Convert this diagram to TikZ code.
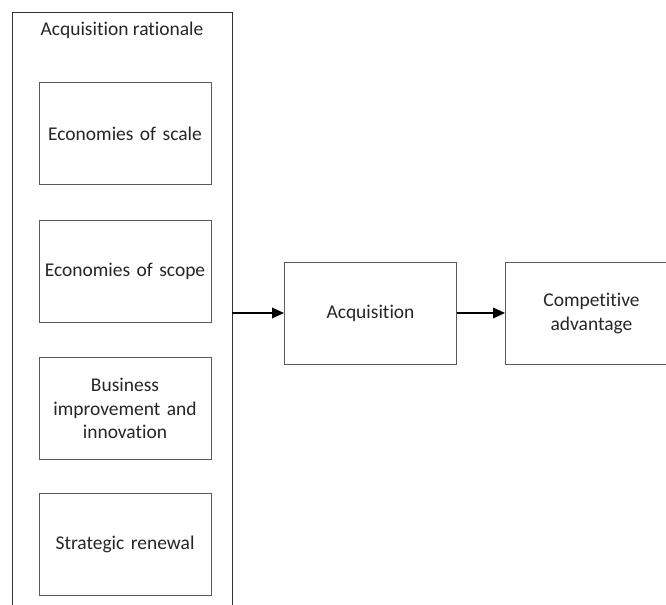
\documentclass[tikz,border=0pt]{standalone}
\usepackage{fontspec}
\setmainfont{Carlito}[Ligatures=NoCommon]
\usetikzlibrary{arrows.meta}

\begin{document}
\begin{tikzpicture}[x=0.75pt,y=-0.75pt,
	box/.style={draw=black!65, line width=0.75pt, minimum width=129pt, minimum height=76.5pt, inner sep=2pt, align=center, text width=122pt, font=\fontsize{14.6}{17.5}\selectfont, text=black!85},
	link/.style={draw=black, line width=1pt, -{Triangle[length=9pt,width=8pt]}}]
\useasboundingbox (0,0) rectangle (666,605);
\clip (0,0) rectangle (666,605);
\draw [black!80, line width=0.75pt] (12,13) rectangle (232,630);
\node [font=\fontsize{14.6}{17.5}\selectfont, text=black!85] (title) at (122,30) {Acquisition rationale};
\node [box] (scale) at (125,134) {Economies of scale};
\node [box] (scope) at (125,271.5) {Economies of scope};
\node [box] (improve) at (125,408.5) {Business\\improvement and\\innovation};
\node [box] (renewal) at (125,544.5) {Strategic renewal};
\coordinate (rationale) at (232,313);
\node [box] (acq) at (370.5,313.5) {Acquisition};
\node [box] (adv) at (591.5,313.5) {Competitive\\advantage};
\draw [link] (rationale) -- (acq.west |- rationale);
\draw [link] (acq.east |- rationale) -- (adv.west |- rationale);
\end{tikzpicture}
\end{document}
